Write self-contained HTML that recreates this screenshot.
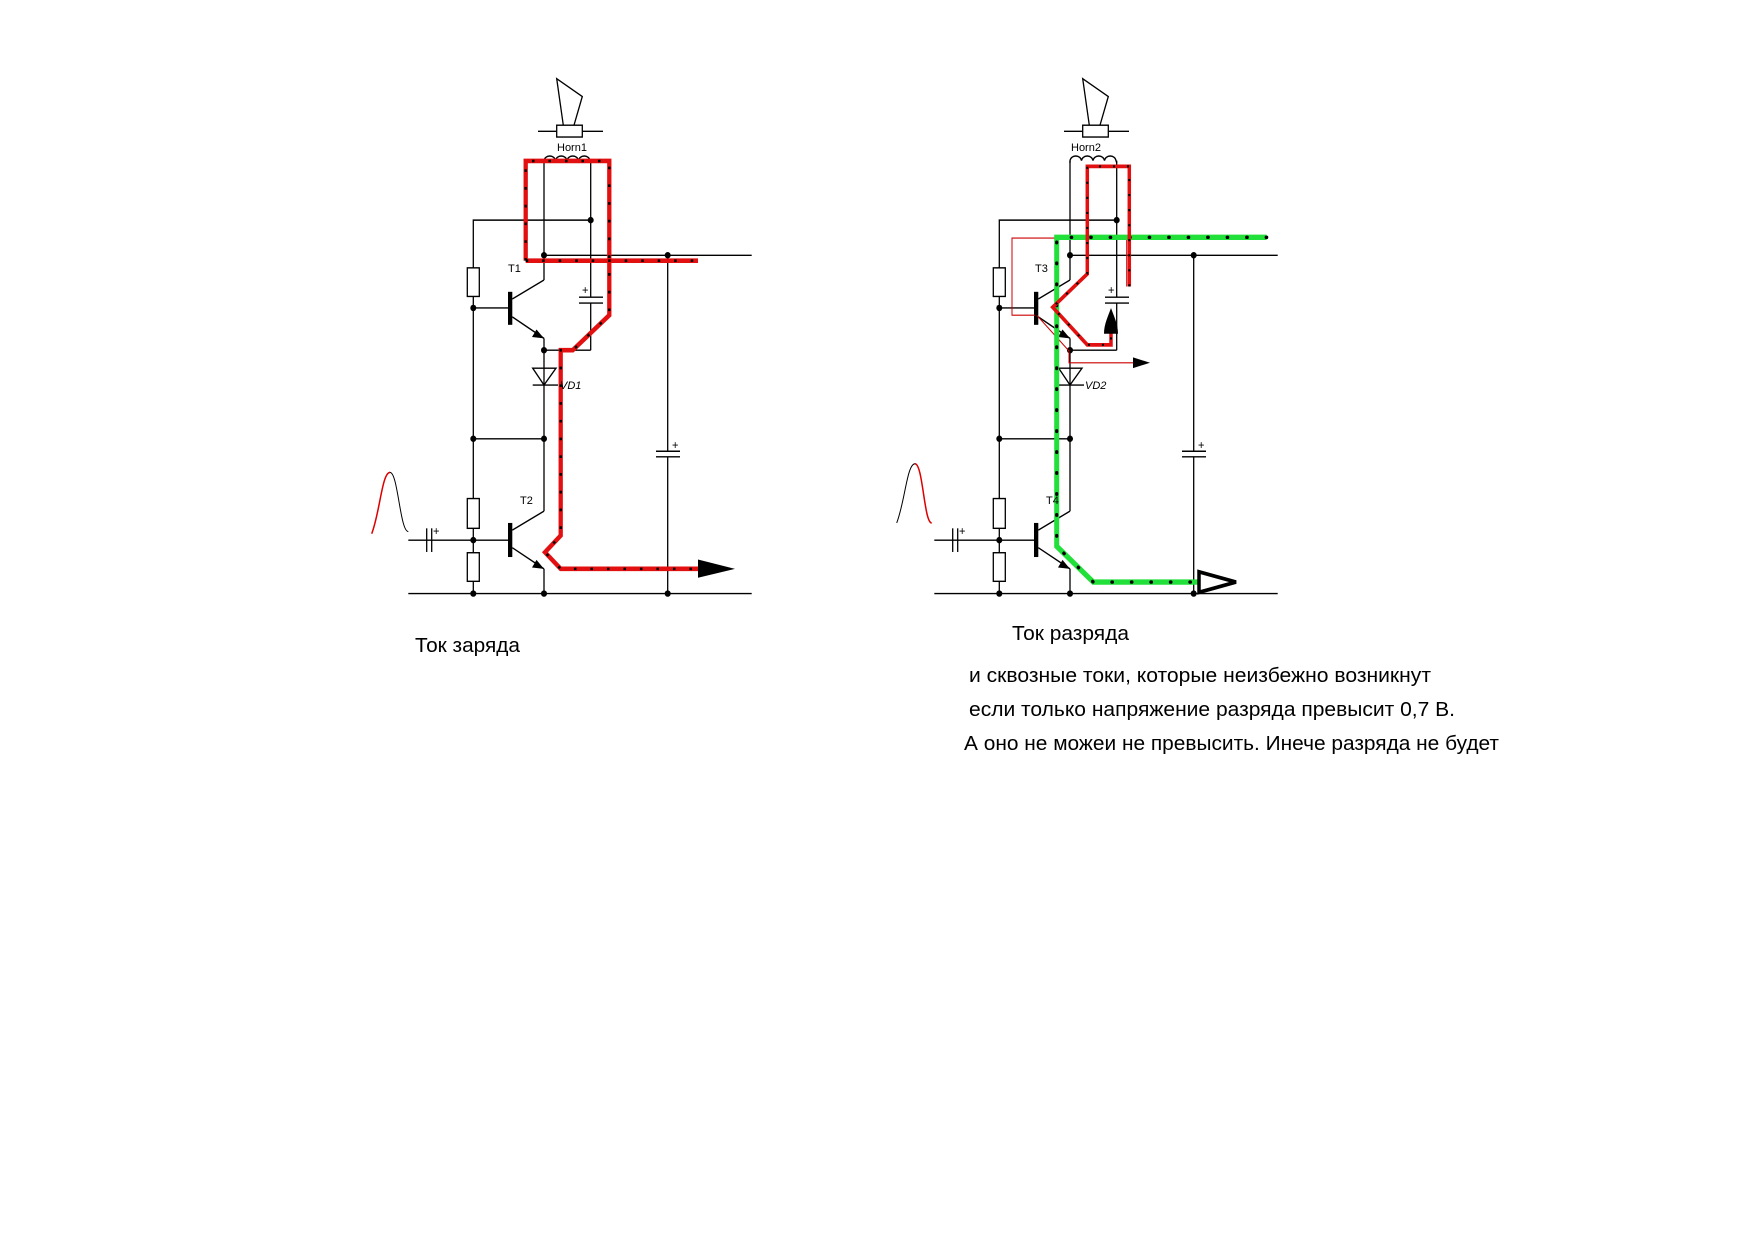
<!DOCTYPE html>
<html><head><meta charset="utf-8"><style>
html,body{margin:0;padding:0;background:#fff}
svg{display:block}
text{font-family:"Liberation Sans",Arial,sans-serif}
</style></head><body>
<svg width="1754" height="1240" viewBox="0 0 1754 1240" xmlns="http://www.w3.org/2000/svg">
<defs>
<g id="circ" fill="none" stroke="#000" stroke-width="1.3">
  <polygon points="556.7,76.7 582.3,93.3 574,120 563.3,120" fill="#fff"/>
  <line x1="538" y1="125.7" x2="603" y2="125.7"/>
  <rect x="556.7" y="120" width="25.6" height="11" fill="#fff"/>
  <path d="M544,155 L544,153 a5.8,5 0 0 1 11.5,0 a5.8,5 0 0 1 11.5,0 a5.8,5 0 0 1 11.5,0 a5.8,5 0 0 1 11.5,0 L590.7,155"/>
  <line x1="544" y1="153" x2="544" y2="264"/>
  <line x1="590.7" y1="153" x2="590.7" y2="280"/>
  <line x1="590.7" y1="285.5" x2="590.7" y2="329.3"/>
  <line x1="579" y1="280" x2="603" y2="280"/>
  <line x1="579" y1="285.5" x2="603" y2="285.5"/>
  <polyline points="473.3,555.7 473.3,208.3 590.7,208.3"/>
  <line x1="544" y1="241" x2="751.7" y2="241"/>
  <line x1="667.7" y1="241" x2="667.7" y2="423.3"/>
  <line x1="667.7" y1="428.5" x2="667.7" y2="555.7"/>
  <line x1="656" y1="423.3" x2="680" y2="423.3"/>
  <line x1="656" y1="428.5" x2="680" y2="428.5"/>
  <rect x="467.3" y="252.7" width="12" height="26.6" fill="#fff"/>
  <rect x="467.3" y="467.3" width="12" height="27.7" fill="#fff"/>
  <rect x="467.3" y="517.7" width="12" height="26.6" fill="#fff"/>
  <line x1="473.3" y1="290" x2="510" y2="290"/>
  <line x1="512.3" y1="281.7" x2="544" y2="264"/>
  <line x1="512.3" y1="298.3" x2="544" y2="318.3"/>
  <line x1="544" y1="318.3" x2="544" y2="479"/>
  <line x1="544" y1="329.3" x2="590.7" y2="329.3"/>
  <polygon points="532.7,346 556,346 544,361.7"/>
  <line x1="532.7" y1="361.7" x2="558" y2="361.7"/>
  <line x1="473.3" y1="411.7" x2="544" y2="411.7"/>
  <line x1="408.3" y1="506" x2="510" y2="506"/>
  <line x1="512.3" y1="496.7" x2="544" y2="479"/>
  <line x1="512.3" y1="513" x2="544" y2="532.7"/>
  <line x1="544" y1="532.7" x2="544" y2="555.7"/>
  <line x1="426.7" y1="495" x2="426.7" y2="517"/>
  <line x1="431.7" y1="495" x2="431.7" y2="517"/>
  <line x1="408.3" y1="555.7" x2="751.7" y2="555.7"/>
  <rect x="508" y="275" width="4.3" height="30.7" fill="#000" stroke="none"/>
  <rect x="508" y="490" width="4.3" height="31.7" fill="#000" stroke="none"/>
  <polygon points="544,318.3 532,317 536.5,310" fill="#000" stroke="none"/>
  <polygon points="544,532.7 532,531.4 536.5,524.4" fill="#000" stroke="none"/>
  <g fill="#000" stroke="none">
    <circle cx="590.7" cy="208.3" r="3"/><circle cx="544" cy="241" r="3"/>
    <circle cx="667.7" cy="241" r="3"/><circle cx="473.3" cy="290" r="3"/>
    <circle cx="544" cy="329.3" r="3"/><circle cx="473.3" cy="411.7" r="3"/>
    <circle cx="544" cy="411.7" r="3"/><circle cx="473.3" cy="506" r="3"/>
    <circle cx="473.3" cy="555.7" r="3"/><circle cx="544" cy="555.7" r="3"/>
    <circle cx="667.7" cy="555.7" r="3"/>
  </g>
  <g fill="#000" stroke="none">
    <text x="582" y="277" font-size="11">+</text>
    <text x="672" y="421" font-size="11">+</text>
    <text x="433" y="501" font-size="11">+</text>
  </g>
</g>
</defs>

<g transform="translate(0,-3.8) scale(1,1.075)">
<use href="#circ"/>
<use href="#circ" transform="translate(526,0)"/>

<path d="M371.7,500 C380,480 382,443 390,443" fill="none" stroke="#d00" stroke-width="1.5"/>
<path d="M390,443 C398,443 400,498 408.3,498" fill="none" stroke="#000" stroke-width="1"/>
<path d="M896.7,490 C905,470 907,435 915,435" fill="none" stroke="#000" stroke-width="1"/>
<path d="M915,435 C923,435 924,490 931.7,490" fill="none" stroke="#d00" stroke-width="1.5"/>

<g fill="none">
  <path d="M525.7,246 L525.7,153.3 L609.3,153.3 L609.3,296.7 L572.7,329.3 L560.7,329.3 L560.7,501.7 L545,517.3 L560.7,532.7 L700,532.7" stroke="#e21010" stroke-width="4.3"/>
  <path d="M525.7,246 L698,246" stroke="#e21010" stroke-width="4.3"/>
  <path d="M525.7,246 L525.7,153.3 L609.3,153.3 L609.3,296.7 L572.7,329.3 L560.7,329.3 L560.7,501.7 L545,517.3 L560.7,532.7 L700,532.7" stroke="#000" stroke-width="2.4" stroke-dasharray="2.5 14"/>
  <path d="M525.7,246 L698,246" stroke="#000" stroke-width="2.4" stroke-dasharray="2.5 14"/>
</g>
<polygon points="698,524 735,532.7 698,541" fill="#000"/>

<g fill="none" stroke="#c00" stroke-width="1">
  <polyline points="1126.7,270 1126.7,225 1012,225 1012,296.7 1035,296.7"/>
  <polyline points="1037,297 1069,330 1069,341 1146,341"/>
</g>
<polygon points="1133,336 1150,341 1133,346" fill="#000"/>

<g fill="none">
  <path d="M1266.7,224.3 L1056.7,224.3 L1056.7,511.7 L1093.3,545 L1198,545" stroke="#22e03a" stroke-width="5"/>
  <path d="M1266.7,224.3 L1056.7,224.3 L1056.7,511.7 L1093.3,545 L1198,545" stroke="#000" stroke-width="3.2" stroke-dasharray="0.5 19" stroke-linecap="round"/>
</g>
<polygon points="1199,535.5 1236,545 1199,554.5" fill="#fff" stroke="#000" stroke-width="3.5"/>

<g fill="none">
  <path d="M1129.3,270 L1129.3,158.3 L1087.3,158.3 L1087.3,258.3 L1052.7,289.3 L1087.3,324.3 L1111,324.3 L1111,310" stroke="#e21010" stroke-width="3.5"/>
  <path d="M1129.3,270 L1129.3,158.3 L1087.3,158.3 L1087.3,258.3 L1052.7,289.3 L1087.3,324.3 L1111,324.3 L1111,310" stroke="#000" stroke-width="2" stroke-dasharray="2 12"/>
</g>
<path d="M1111,290 C1108,298 1104,305 1104,314 L1118,314 C1118,305 1114,298 1111,290 Z" fill="#000"/>
</g>

<g font-size="11" fill="#000">
  <text x="557" y="151">Horn1</text>
  <text x="1071" y="151">Horn2</text>
  <text x="508" y="272">T1</text>
  <text x="1035" y="272">T3</text>
  <text x="520" y="504">T2</text>
  <text x="1046" y="504">T4</text>
  <text x="560" y="389" font-style="italic">VD1</text>
  <text x="1085" y="389" font-style="italic">VD2</text>
</g>

<g fill="#000" font-size="20">
  <text x="415" y="652" textLength="105" lengthAdjust="spacingAndGlyphs">Ток заряда</text>
  <text x="1012" y="640" textLength="117" lengthAdjust="spacingAndGlyphs">Ток разряда</text>
  <text x="969" y="682" textLength="462" lengthAdjust="spacingAndGlyphs">и сквозные токи, которые неизбежно возникнут</text>
  <text x="969" y="716" textLength="486" lengthAdjust="spacingAndGlyphs">если только напряжение разряда превысит 0,7 В.</text>
  <text x="964" y="750" textLength="535" lengthAdjust="spacingAndGlyphs">А оно не можеи не превысить. Инече разряда не будет</text>
</g>
</svg>
</body></html>
